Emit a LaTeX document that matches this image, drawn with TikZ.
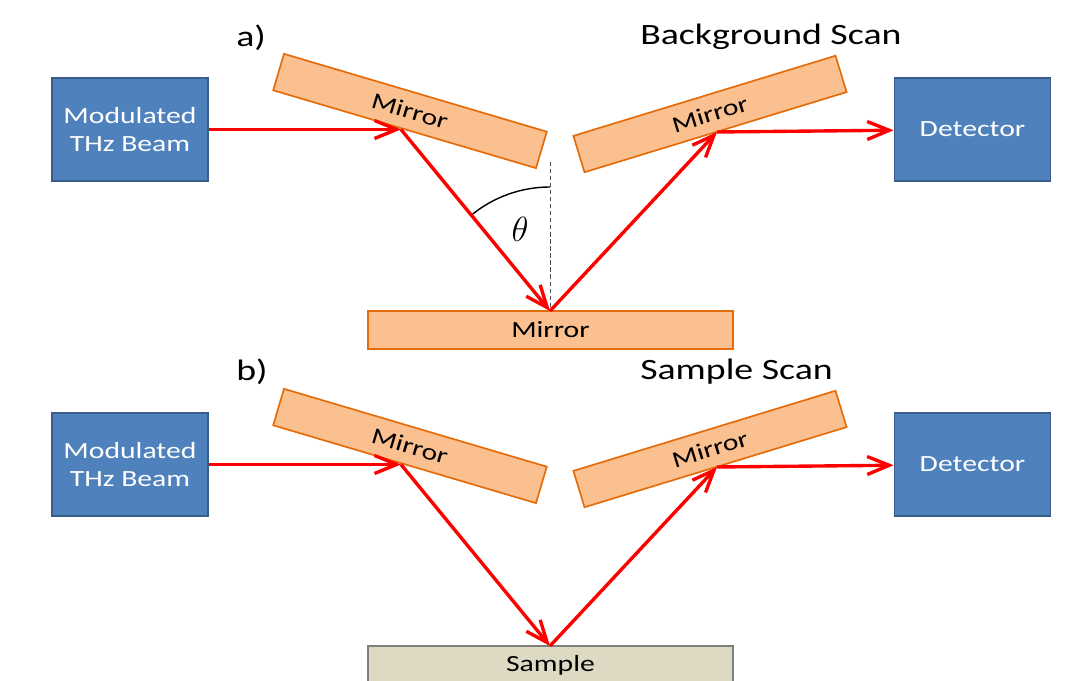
\documentclass[tikz,border=0pt]{standalone}
\usepackage{fontspec}
\setmainfont{Carlito}[FakeStretch=1.28]
\definecolor{boxblue}{RGB}{79,129,189}
\definecolor{boxedge}{RGB}{56,93,138}
\definecolor{mirfill}{RGB}{250,192,144}
\definecolor{miredge}{RGB}{228,108,10}
\definecolor{smpfill}{RGB}{221,217,195}
\definecolor{smpedge}{RGB}{127,127,127}
\definecolor{beamred}{RGB}{255,0,0}
\usetikzlibrary{arrows.meta}

\begin{document}
\begin{tikzpicture}[x=0.025cm, y=0.025cm,
  every node/.style={font=\fontsize{16.5}{19.5}\selectfont},
  box/.style={draw=boxedge, fill=boxblue, line width=1.2pt, text=white, align=center,
    minimum width=3.9cm, minimum height=2.575cm},
  mirror/.style={draw=miredge, fill=mirfill, line width=1.2pt, inner sep=0pt,
    minimum width=6.85cm, minimum height=0.95cm},
  flatmirror/.style={mirror, minimum width=9.125cm},
  samplebox/.style={flatmirror, draw=smpedge, fill=smpfill},
  beam/.style={beamred, line width=2.4pt, -{Straight Barb[length=5.5mm,width=4.5mm]}},
  heading/.style={anchor=west, inner sep=0pt, font=\fontsize{21}{25}\selectfont}]
  \useasboundingbox (0,0) rectangle (1084,681);

  % a) background scan
  \node [heading] (lbla) at (236,643) {a)};
  \node [heading] (ttla) at (640,644) {Background Scan};
  \node [box] (src) at (130,551.5) {Modulated\\THz Beam};
  \node [box] (det) at (972.5,551.5) {Detector};
  \node [mirror, rotate=-16.5] (mirA) at (410,570) {Mirror};
  \node [mirror, rotate=17] (mirB) at (710,567) {Mirror};
  \node [flatmirror] (mirC) at (550.5,351) {Mirror};

  \coordinate (hit1) at (401,551.5);
  \coordinate (hit2) at (550,370);
  \coordinate (hit3) at (717,549);
  \coordinate (norm) at (550,519);

  % normal and angle:
  \draw [densely dashed, black!70, thin] (norm) -- (hit2);
  \draw [line width=1pt] (hit2) ++(90:124) arc[start angle=90, end angle=129.4, radius=124];
  \node (theta) at (520,452) {\fontsize{27}{30}\selectfont$\theta$};

  \draw [beam] (src) -- (hit1);
  \draw [beam] (hit1) -- (hit2);
  \draw [beam] (hit2) -- (hit3);
  \draw [beam] (hit3) -- (det);

  % b) sample scan
  \node [heading] (lblb) at (236,309) {b)};
  \node [heading] (ttlb) at (640,309) {Sample Scan};
  \node [box] (src2) at (130,216.5) {Modulated\\THz Beam};
  \node [box] (det2) at (972.5,216.5) {Detector};
  \node [mirror, rotate=-16.5] (mirD) at (410,235) {Mirror};
  \node [mirror, rotate=17] (mirE) at (710,232) {Mirror};
  \node [samplebox] (smp) at (550.5,16) {Sample};

  \coordinate (hit4) at (401,216.5);
  \coordinate (hit5) at (550,35);
  \coordinate (hit6) at (717,214);

  \draw [beam] (src2) -- (hit4);
  \draw [beam] (hit4) -- (hit5);
  \draw [beam] (hit5) -- (hit6);
  \draw [beam] (hit6) -- (det2);

\end{tikzpicture}
\end{document}
